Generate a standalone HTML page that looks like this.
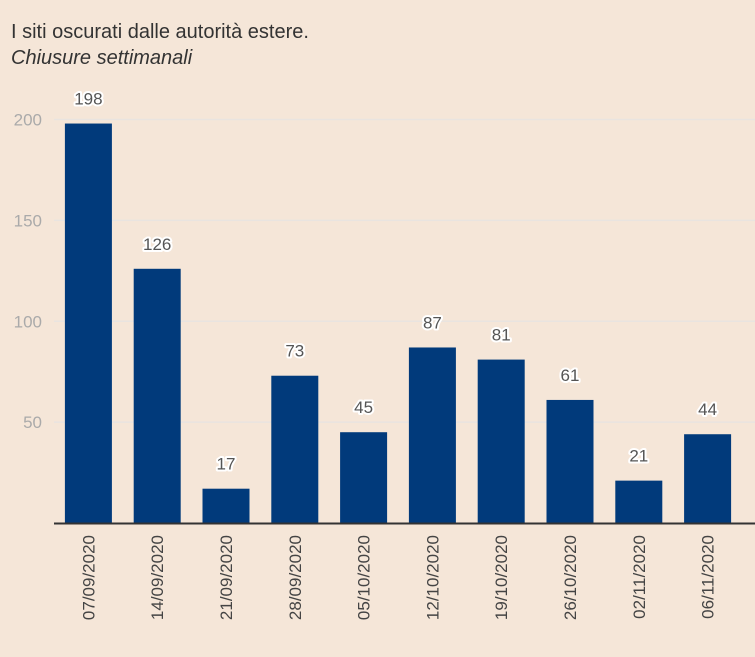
<!DOCTYPE html>
<html><head><meta charset="utf-8"><style>
body{margin:0;background:#f5e6d8;font-family:"Liberation Sans",sans-serif}
svg{display:block}
</style></head><body>
<svg width="755" height="657">
<rect width="755" height="657" fill="#f5e6d8"/>
<text x="11" y="38" font-size="20" fill="#333">I siti oscurati dalle autorità estere.</text>
<text x="11" y="64" font-size="20" font-style="italic" fill="#333">Chiusure settimanali</text>
<g id="plot"></g>
</svg>
<script>
const categories=["07/09/2020","14/09/2020","21/09/2020","28/09/2020","05/10/2020","12/10/2020","19/10/2020","26/10/2020","02/11/2020","06/11/2020"];
const values=[198,126,17,73,45,87,81,61,21,44];
const yTicks=[50,100,150,200];
const NS="http://www.w3.org/2000/svg";
const g=document.getElementById('plot');
const x0=54,x1=742,y0=523,yMax=200,yTop=119.5;
const band=(x1-x0)/categories.length,bw=47;
const y=v=>y0-(v/yMax)*(y0-yTop);
const xc=i=>x0+band*(i+0.5);
function mk(t,a){const e=document.createElementNS(NS,t);for(const k in a)e.setAttribute(k,a[k]);g.appendChild(e);return e;}
yTicks.forEach(t=>{
 const l=mk('line',{x1:x0,x2:755,y1:y(t),y2:y(t),stroke:'#e9e4e0','stroke-width':1.5});
 
 
 const tx=mk('text',{x:42,y:y(t)+6,'text-anchor':'end','font-size':17,fill:'#aaa'});
 tx.textContent=t;
 
 
});
categories.forEach((c,i)=>{
 const r=mk('rect',{x:xc(i)-bw/2,y:y(values[i]),width:bw,height:y0-y(values[i]),fill:'#013a7b'});
 
 
 const v=mk('text',{x:xc(i),y:y(values[i])-19,'text-anchor':'middle','font-size':17,fill:'#555',stroke:'#fff','stroke-width':4,'paint-order':'stroke','stroke-linejoin':'round'});
 v.textContent=values[i];
 
 
 const t=mk('text',{transform:`translate(${xc(i)+6},${y0+12}) rotate(-90)`,'text-anchor':'end','font-size':17,fill:'#444'});
 t.textContent=c;
 
 
});
const ax=mk('line',{x1:x0,x2:755,y1:y0+0.5,y2:y0+0.5,stroke:'#333','stroke-width':2});


</script>
</body></html>
